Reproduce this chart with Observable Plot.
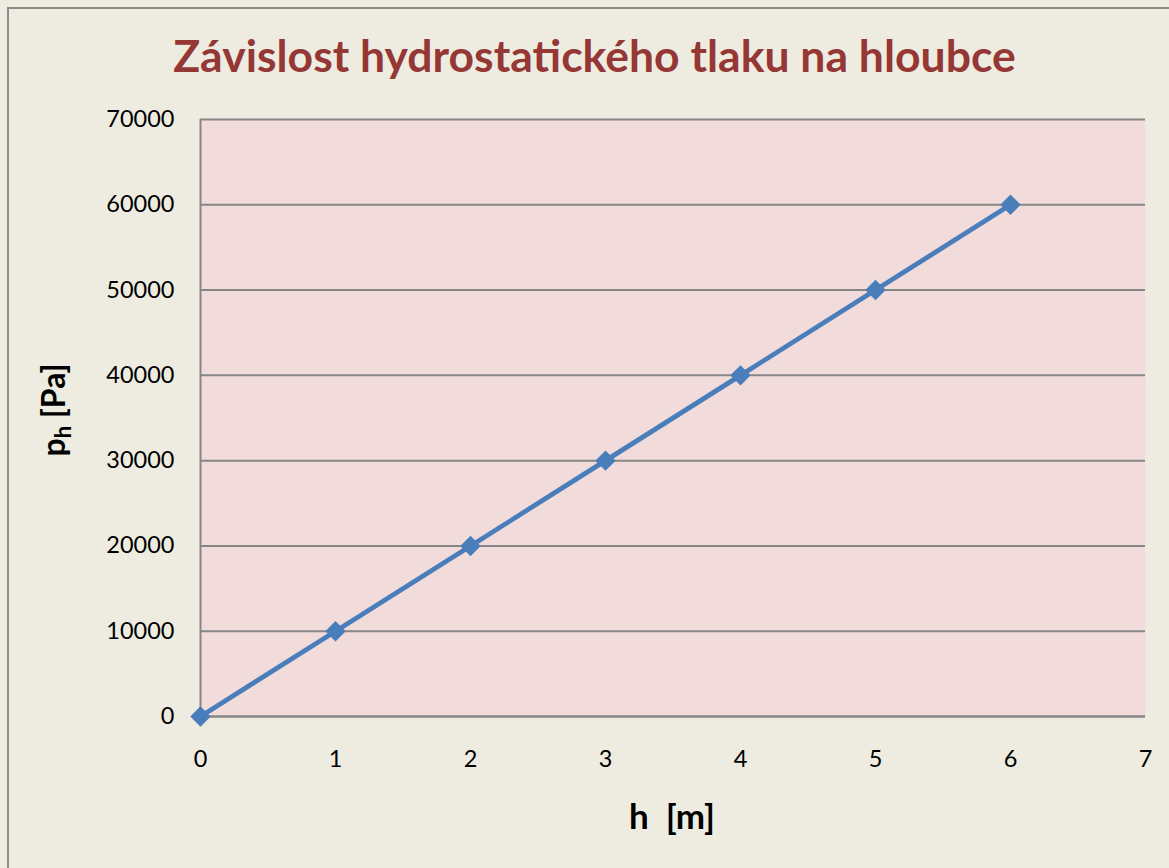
<!DOCTYPE html>
<html>
<head>
<meta charset="utf-8">
<script src="https://cdn.jsdelivr.net/npm/d3@7"></script>
<script src="https://cdn.jsdelivr.net/npm/@observablehq/plot@0.6"></script>
<style>
  html, body { margin: 0; padding: 0; background: #fff; }
  #chart { position: relative; width: 1169px; height: 868px; background: #EEECE1; overflow: hidden; }
  #frame { position: absolute; left: 7px; top: 7px; width: 1200px; height: 900px; border-left: 2px solid #8C8C8C; border-top: 2px solid #8C8C8C; box-sizing: border-box; pointer-events: none; }
  #title { position: absolute; left: 0; top: 33px; width: 1189px; text-align: center; font-family: Lato, "Open Sans", sans-serif; font-weight: bold; font-size: 44.5px; color: #953735; line-height: 1; }
  #ylabel { position: absolute; left: 55px; top: 410px; transform: translate(-50%, -50%) rotate(-90deg); font-family: Lato, "Open Sans", sans-serif; font-weight: bold; font-size: 32px; color: #000; white-space: nowrap; line-height: 1; }
  #ylabel sub { font-size: 22px; vertical-align: -6px; }
  #xlabel { position: absolute; left: 672px; top: 798px; transform: translateX(-50%); font-family: Lato, "Open Sans", sans-serif; font-weight: bold; font-size: 35px; color: #000; white-space: pre; line-height: 1; }
  svg { position: absolute; left: 0; top: 0; }
</style>
</head>
<body>
<div id="chart">
  <div id="frame"></div>
  <div id="title">Závislost hydrostatického tlaku na hloubce</div>
  <div id="ylabel">p<sub>h</sub> [Pa]</div>
  <div id="xlabel">h  [m]</div>
</div>
<script>
const depths = [0, 1, 2, 3, 4, 5, 6];
const pressures = [0, 10000, 20000, 30000, 40000, 50000, 60000];
const xTicks = [0, 1, 2, 3, 4, 5, 6, 7];
const yTicks = [0, 10000, 20000, 30000, 40000, 50000, 60000, 70000];

const data = depths.map((h, i) => ({h, p: pressures[i]}));

const plot = Plot.plot({
  width: 1169,
  height: 868,
  marginLeft: 200,
  marginRight: 24,
  marginTop: 119,
  marginBottom: 152,
  style: {background: "transparent", fontFamily: "Lato, 'Open Sans', sans-serif", fontSize: "23.5px", color: "#000"},
  x: {domain: [0, 7], ticks: xTicks, tickSize: 0, tickPadding: 34, tickFormat: d => String(d), label: null},
  y: {domain: [0, 70000], ticks: yTicks, tickSize: 0, tickPadding: 26, tickFormat: d => String(d), label: null},
  marks: [
    Plot.frame({fill: "#F2DCDB", stroke: null}),
    Plot.gridY(yTicks, {stroke: "#868686", strokeOpacity: 1, strokeWidth: 2}),
    Plot.ruleX([0], {stroke: "#868686", strokeWidth: 2}),
    Plot.ruleY([0], {stroke: "#868686", strokeWidth: 2}),
    Plot.axisX(xTicks, {tickSize: 0, tickPadding: 34, tickFormat: d => String(d), fill: "#000", label: null}),
    Plot.axisY(yTicks, {tickSize: 0, tickPadding: 26, tickFormat: d => String(d), fill: "#000", label: null}),
    Plot.line(data, {x: "h", y: "p", stroke: "#4A7EBB", strokeWidth: 4.8}),
    Plot.dot(data, {x: "h", y: "p", symbol: "diamond2", r: 9.2, fill: "#4A7EBB", stroke: null})
  ]
});
document.getElementById("chart").insertBefore(plot, document.getElementById("frame"));
</script>
</body>
</html>
